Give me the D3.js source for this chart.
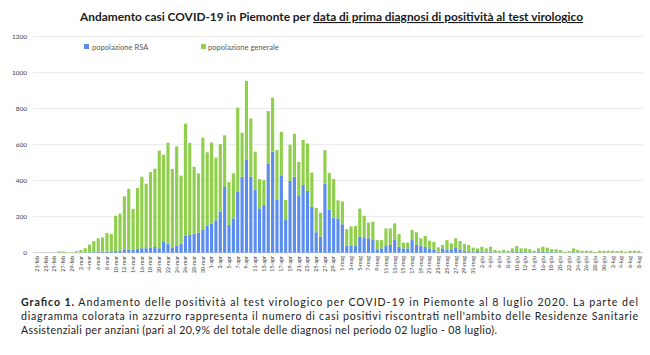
<!DOCTYPE html>
<html><head><meta charset="utf-8">
<script src="https://cdn.jsdelivr.net/npm/d3@7"></script>
<style>html,body{margin:0;padding:0;background:#fff;}svg{display:block;}</style>
</head><body>
<script>
// Data: daily cases from 21 Feb 2020 to 8 Jul 2020
const startDate = new Date(2020, 1, 21);
const endDate = new Date(2020, 6, 9);
const monthNames = ["gen","feb","mar","apr","mag","giu","lug","ago","set","ott","nov","dic"];
const seriesNames = ["popolazione RSA", "popolazione generale"];
const yTicks = [0, 200, 400, 600, 800, 1000, 1200];

const rsa = [0,0,0,0,0,0,0,0,0,0,0,1,2,3,4,5,6,8,
 10,12,15,18,15,20,25,25,28,32,25,60,50,30,40,50,94,100,105,112,130,150,160,180,228,365,
 154,191,339,422,518,422,348,246,265,496,561,293,426,182,399,422,315,376,343,256,114,89,
 385,239,195,191,158,38,40,38,89,82,80,70,19,24,37,43,74,33,24,24,70,43,37,33,24,19,6,
 24,15,19,30,15,11,8,5,10,6,3,5,2,1,2,1,3,8,5,3,2,1,6,8,5,3,2,1,0,1,3,2,
 1,1,1,0,1,1,1,1,1,1,0,1,1,1];

const generale = [0,0,0,0,1,8,7,2,2,8,15,24,43,62,76,80,104,96,
 195,205,298,337,228,339,397,358,420,435,542,484,561,435,551,378,623,510,372,328,509,408,452,348,375,287,
 238,250,467,245,436,324,213,163,139,291,300,277,246,111,201,238,189,251,264,189,134,133,
 185,203,214,100,127,92,106,110,156,123,87,102,51,46,98,92,89,71,32,32,56,70,43,60,43,42,24,
 19,55,33,50,50,37,35,23,14,27,21,28,13,10,13,10,21,29,19,21,17,10,18,25,23,17,17,14,6,8,21,13,
 10,10,10,4,10,10,10,10,8,10,6,10,10,10];

const titlePlain = "Andamento casi COVID-19 in Piemonte per ";
const titleUnder = "data di prima diagnosi di positività al test virologico";
const captionLines = [
  ["Grafico 1.", " Andamento delle positività al test virologico per COVID-19 in Piemonte al 8 luglio 2020. La parte del"],
  ["", "diagramma colorata in azzurro rappresenta il numero di casi positivi riscontrati nell'ambito delle Residenze Sanitarie"],
  ["", "Assistenziali per anziani (pari al 20,9% del totale delle diagnosi nel periodo 02 luglio - 08 luglio)."]
];

const colors = ["#5b8def", "#8fcf4c"];

const W = 650, H = 355;
const svg = d3.select("body").append("svg").attr("width", W).attr("height", H)
  .style("font-family", "Lato, 'Noto Sans', sans-serif");

const days = d3.timeDay.range(startDate, endDate);
const fmt = d => d.getDate() + "-" + monthNames[d.getMonth()];
const cats = days.map(fmt);

const x = d3.scaleBand().domain(cats).range([35, 641]).paddingInner(0.28).paddingOuter(0.14);
const y = d3.scaleLinear().domain([0, 1200]).range([252.7, 36.7]);

// gridlines
svg.append("g").selectAll("line").data(yTicks).join("line")
  .attr("x1", 33).attr("x2", 643)
  .attr("y1", d => y(d)).attr("y2", d => y(d))
  .attr("stroke", d => d === 0 ? "#bfbfbf" : "#e3e3e3").attr("stroke-width", 0.8);

// y axis
const yAxis = svg.append("g").attr("transform", "translate(27,0)")
  .call(d3.axisLeft(y).tickValues(yTicks).tickFormat(d3.format("d")).tickSize(0).tickPadding(0));
yAxis.select(".domain").remove();
yAxis.selectAll("text").attr("font-size", 6.5).attr("fill", "#404040")
  .style("font-family", "Lato, sans-serif");

// stacked bars
const rows = cats.map((c, i) => ({cat: c, rsa: rsa[i], gen: generale[i]}));
const stack = d3.stack().keys(["rsa", "gen"])(rows);
svg.append("g").selectAll("g").data(stack).join("g")
  .attr("fill", (d, i) => colors[i])
  .selectAll("rect").data(d => d).join("rect")
  .attr("x", d => x(d.data.cat))
  .attr("width", x.bandwidth())
  .attr("y", d => y(d[1]))
  .attr("height", d => Math.max(0, y(d[0]) - y(d[1])));

// x axis labels every 2 days
const xAxis = svg.append("g").attr("transform", "translate(0,253)")
  .call(d3.axisBottom(x).tickValues(cats.filter((c, i) => i % 2 === 0)).tickSize(0).tickPadding(0));
xAxis.select(".domain").remove();
xAxis.selectAll("text")
  .attr("font-size", 5.3).attr("fill", "#404040")
  .style("font-family", "Lato, sans-serif")
  .attr("text-anchor", "end")
  .attr("transform", "rotate(-90)")
  .attr("x", -3).attr("y", 0).attr("dy", "0.35em");

// legend
const leg = svg.append("g");
const legPos = [[84, 92], [201, 208]];
seriesNames.forEach((n, i) => {
  leg.append("rect").attr("x", legPos[i][0]).attr("y", 44).attr("width", 5).attr("height", 5).attr("fill", colors[i]);
  leg.append("text").attr("x", legPos[i][1]).attr("y", 49.5).attr("font-size", 7.6).attr("fill", "#595959").text(n);
});

// title
const t = svg.append("text").attr("x", 80).attr("y", 21).attr("font-size", 11.2)
  .attr("font-weight", "bold").attr("fill", "#1a1a1a")
  .attr("textLength", 503).attr("lengthAdjust", "spacingAndGlyphs");
t.append("tspan").text(titlePlain);
t.append("tspan").attr("text-decoration", "underline").text(titleUnder);

// caption
const capY = [305.5, 320, 333.5];
const capLen = [617, 617, 476];
captionLines.forEach((ln, i) => {
  const tx = svg.append("text").attr("x", 21).attr("y", capY[i]).attr("font-size", 10.6)
    .attr("fill", "#222").attr("textLength", capLen[i]).attr("lengthAdjust", "spacing");
  if (ln[0]) tx.append("tspan").attr("font-weight", "bold").text(ln[0]);
  tx.append("tspan").text(ln[1]);
});
</script>
</body></html>
